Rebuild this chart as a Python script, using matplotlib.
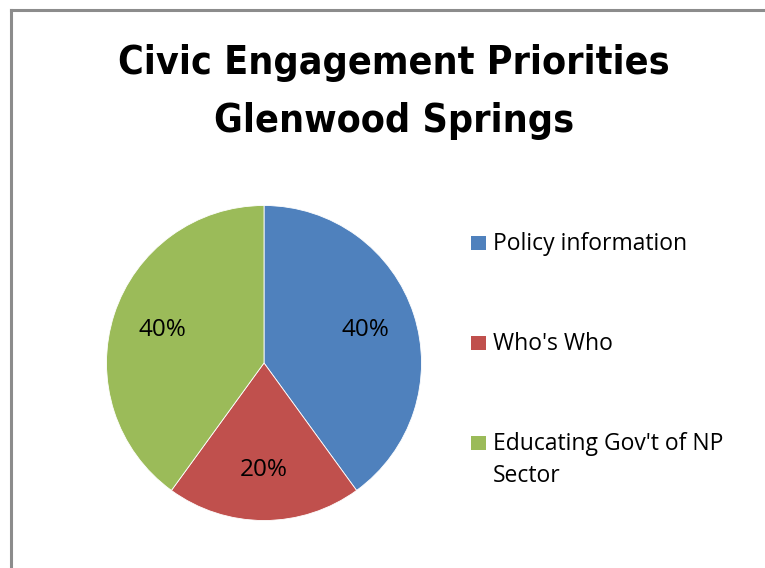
import matplotlib.pyplot as plt
from matplotlib.lines import Line2D
from matplotlib.patches import Rectangle

# chart data
title_lines = ["Civic Engagement Priorities", "Glenwood Springs"]
categories = ["Policy information", "Who's Who", "Educating Gov't of NP\nSector"]
shares = [40, 20, 40]
colors = ["#4F81BD", "#C0504D", "#9BBB59"]

W, H = 765, 568
fig = plt.figure(figsize=(W / 100, H / 100), dpi=100)

# outer frame (left and top edges)
frame_kw = dict(color="#8c8c8c", lw=2.2, transform=fig.transFigure)
fig.add_artist(Line2D([11 / W, 11 / W], [0, 1 - 10 / H], **frame_kw))
fig.add_artist(Line2D([11 / W, 1], [1 - 10 / H, 1 - 10 / H], **frame_kw))

# title
title_font = dict(family="DejaVu Sans", stretch="condensed", weight="bold",
                  size=28.2, color="black", ha="center", va="center")
fig.text(394 / W, 1 - 63 / H, title_lines[0], **title_font)
fig.text(394 / W, 1 - 121 / H, title_lines[1], **title_font)

# pie
cx, cy, r = 264, 363, 157.5
ax = fig.add_axes([(cx - r) / W, 1 - (cy + r) / H, 2 * r / W, 2 * r / H])
wedges, texts, autotexts = ax.pie(
    shares, colors=colors, startangle=90, counterclock=False,
    autopct="%d%%", pctdistance=0.68,
    wedgeprops=dict(edgecolor="white", linewidth=0.6),
    textprops=dict(family="Open Sans", size=17.5, color="black"))
ax.set_xlim(-1, 1)
ax.set_ylim(-1, 1)
ax.set_aspect("equal")
ax.axis("off")

# legend: square marker beside the first line of each entry
legend_y = [243, 343, 443]
line_step = 31.5
for lab, col, y in zip(categories, colors, legend_y):
    fig.add_artist(Rectangle((471 / W, 1 - (y + 7) / H), 14.5 / W, 14.5 / H,
                             facecolor=col, edgecolor="none", transform=fig.transFigure))
    last_base = y + 7.5 + line_step * lab.count("\n")
    fig.text(493 / W, 1 - last_base / H, lab, family="Open Sans", size=16.5,
             ha="left", va="baseline", linespacing=1.45)

fig.savefig("out.png", dpi=100)
